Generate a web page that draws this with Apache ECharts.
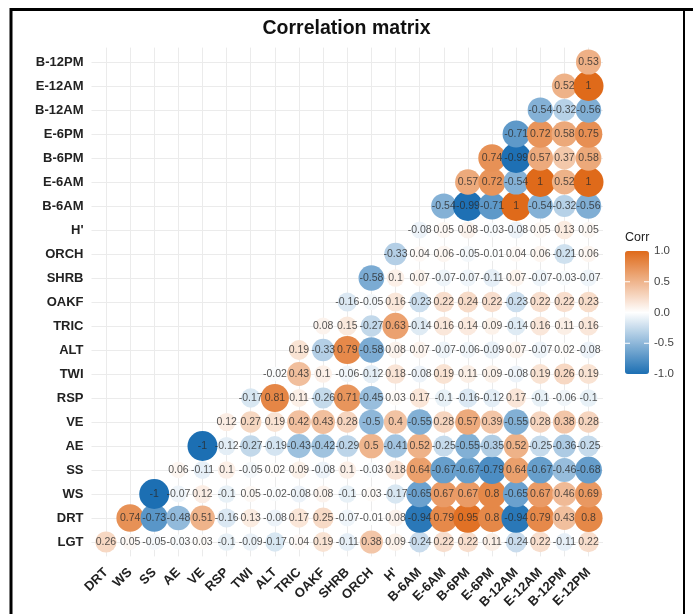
<!DOCTYPE html>
<html>
<head>
<meta charset="utf-8">
<script src="https://cdn.jsdelivr.net/npm/echarts@6/dist/echarts.min.js"></script>
<style>
  html, body { margin: 0; padding: 0; background: #ffffff; }
  #chart { width: 693px; height: 614px; }
</style>
</head>
<body>
<div id="chart"></div>
<script>
// Variables on each axis (rows bottom-to-top, columns left-to-right)
const rowNames = ['LGT', 'DRT', 'WS', 'SS', 'AE', 'VE', 'RSP', 'TWI', 'ALT', 'TRIC', 'OAKF',
  'SHRB', 'ORCH', "H'", 'B-6AM', 'E-6AM', 'B-6PM', 'E-6PM', 'B-12AM', 'E-12AM', 'B-12PM'];
const colNames = ['DRT', 'WS', 'SS', 'AE', 'VE', 'RSP', 'TWI', 'ALT', 'TRIC', 'OAKF', 'SHRB',
  'ORCH', "H'", 'B-6AM', 'E-6AM', 'B-6PM', 'E-6PM', 'B-12AM', 'E-12AM', 'B-12PM', 'E-12PM'];

// Correlations of each row variable with the variables that follow it
const corrLGT  = [0.26, 0.05, -0.05, -0.03, 0.03, -0.1, -0.09, -0.17, 0.04, 0.19, -0.11, 0.38, 0.09, -0.24, 0.22, 0.22, 0.11, -0.24, 0.22, -0.11, 0.22];
const corrDRT  = [0.74, -0.73, -0.48, 0.51, -0.16, 0.13, -0.08, 0.17, 0.25, -0.07, -0.01, 0.08, -0.94, 0.79, 0.95, 0.8, -0.94, 0.79, 0.43, 0.8];
const corrWS   = [-1, -0.07, 0.12, -0.1, 0.05, -0.02, -0.08, 0.08, -0.1, 0.03, -0.17, -0.65, 0.67, 0.67, 0.8, -0.65, 0.67, 0.46, 0.69];
const corrSS   = [0.06, -0.11, 0.1, -0.05, 0.02, 0.09, -0.08, 0.1, -0.03, 0.18, 0.64, -0.67, -0.67, -0.79, 0.64, -0.67, -0.46, -0.68];
const corrAE   = [-1, -0.12, -0.27, -0.19, -0.43, -0.42, -0.29, 0.5, -0.41, 0.52, -0.25, -0.55, -0.35, 0.52, -0.25, -0.36, -0.25];
const corrVE   = [0.12, 0.27, 0.19, 0.42, 0.43, 0.28, -0.5, 0.4, -0.55, 0.28, 0.57, 0.39, -0.55, 0.28, 0.38, 0.28];
const corrRSP  = [-0.17, 0.81, 0.11, -0.26, 0.71, -0.45, 0.03, 0.17, -0.1, -0.16, -0.12, 0.17, -0.1, -0.06, -0.1];
const corrTWI  = [-0.02, 0.43, 0.1, -0.06, -0.12, 0.18, -0.08, 0.19, 0.11, 0.09, -0.08, 0.19, 0.26, 0.19];
const corrALT  = [0.19, -0.33, 0.79, -0.58, 0.08, 0.07, -0.07, -0.06, -0.09, 0.07, -0.07, 0.02, -0.08];
const corrTRIC = [0.08, 0.15, -0.27, 0.63, -0.14, 0.16, 0.14, 0.09, -0.14, 0.16, 0.11, 0.16];
const corrOAKF = [-0.16, -0.05, 0.16, -0.23, 0.22, 0.24, 0.22, -0.23, 0.22, 0.22, 0.23];
const corrSHRB = [-0.58, 0.1, 0.07, -0.07, -0.07, -0.11, 0.07, -0.07, -0.03, -0.07];
const corrORCH = [-0.33, 0.04, 0.06, -0.05, -0.01, 0.04, 0.06, -0.21, 0.06];
const corrH    = [-0.08, 0.05, 0.08, -0.03, -0.08, 0.05, 0.13, 0.05];
const corrB6AM = [-0.54, -0.99, -0.71, 1, -0.54, -0.32, -0.56];
const corrE6AM = [0.57, 0.72, -0.54, 1, 0.52, 1];
const corrB6PM = [0.74, -0.99, 0.57, 0.37, 0.58];
const corrE6PM = [-0.71, 0.72, 0.58, 0.75];
const corrB12AM = [-0.54, -0.32, -0.56];
const corrE12AM = [0.52, 1];
const corrB12PM = [0.53];

const corrRows = [corrLGT, corrDRT, corrWS, corrSS, corrAE, corrVE, corrRSP, corrTWI, corrALT,
  corrTRIC, corrOAKF, corrSHRB, corrORCH, corrH, corrB6AM, corrE6AM, corrB6PM, corrE6PM,
  corrB12AM, corrE12AM, corrB12PM];

// Colour-bar tick labels
const legendTicks = [1.0, 0.5, 0.0, -0.5, -1.0];

// Cells: [column index, row index, r]; row i starts at column i
const cells = [];
corrRows.forEach(function (vals, i) {
  vals.forEach(function (v, k) { cells.push([i + k, i, v]); });
});

const indexTicks = colNames.map(function (_, i) { return i; });

const BLUE = '#1c6fb3';
const ORANGE = '#df6a1a';
const FONT = '"Liberation Sans", Arial, Helvetica, sans-serif';

// Colour bar placement
const barLeft = 625, barTop = 251, barW = 24, barH = 123;
const yOf = function (v) { return barTop + (1 - v) / 2 * barH; };

const graphics = [
  // frame lines
  { type: 'line', shape: { x1: 10, y1: 9.5, x2: 693, y2: 9.5 }, style: { stroke: '#000', lineWidth: 3 }, silent: true },
  { type: 'line', shape: { x1: 11, y1: 8, x2: 11, y2: 614 }, style: { stroke: '#000', lineWidth: 3 }, silent: true },
  { type: 'line', shape: { x1: 684, y1: 8, x2: 684, y2: 614 }, style: { stroke: '#000', lineWidth: 2 }, silent: true },
  { type: 'text', left: barLeft, top: 231, style: { text: 'Corr', font: '12.5px ' + FONT, fill: '#222' }, silent: true }
];
legendTicks.forEach(function (v) {
  graphics.push({ type: 'text', x: barLeft + barW + 5, y: yOf(v),
    style: { text: v.toFixed(1), font: '11.5px ' + FONT, fill: '#444', verticalAlign: 'middle' }, silent: true, z: 10 });
  if (Math.abs(v) < 1) {
    graphics.push({ type: 'line', shape: { x1: barLeft, y1: yOf(v), x2: barLeft + 5, y2: yOf(v) }, style: { stroke: '#fff', lineWidth: 1 }, silent: true, z: 10 });
    graphics.push({ type: 'line', shape: { x1: barLeft + barW - 5, y1: yOf(v), x2: barLeft + barW, y2: yOf(v) }, style: { stroke: '#fff', lineWidth: 1 }, silent: true, z: 10 });
  }
});

const chart = echarts.init(document.getElementById('chart'), null, { renderer: 'canvas' });
chart.setOption({
  animation: false,
  backgroundColor: '#ffffff',
  title: {
    text: 'Correlation matrix',
    left: 'center',
    top: 19,
    padding: 0,
    textStyle: { fontFamily: FONT, fontWeight: 'bold', fontSize: 19.5, color: '#111' }
  },
  grid: { left: 91.5, right: 90, top: 47.6, bottom: 57.6, containLabel: false },
  xAxis: {
    type: 'value',
    min: -0.6,
    max: 20.6,
    axisLine: { show: false },
    axisTick: { show: false, customValues: indexTicks },
    splitLine: { show: true, lineStyle: { color: '#ebebeb', width: 1 } },
    axisLabel: {
      customValues: indexTicks,
      rotate: 45,
      margin: 14,
      fontFamily: FONT,
      fontWeight: 'bold',
      fontSize: 13,
      color: '#222',
      formatter: function (v) { return colNames[Math.round(v)]; }
    }
  },
  yAxis: {
    type: 'value',
    min: -0.6,
    max: 20.6,
    axisLine: { show: false },
    axisTick: { show: false, customValues: indexTicks },
    splitLine: { show: true, lineStyle: { color: '#ebebeb', width: 1 } },
    axisLabel: {
      customValues: indexTicks,
      margin: 8,
      fontFamily: FONT,
      fontWeight: 'bold',
      fontSize: 13,
      color: '#222',
      formatter: function (v) { return rowNames[Math.round(v)]; }
    }
  },
  visualMap: {
    type: 'continuous',
    min: -1,
    max: 1,
    dimension: 2,
    seriesIndex: 0,
    calculable: false,
    hoverLink: false,
    left: barLeft,
    top: barTop,
    itemWidth: barW,
    itemHeight: barH,
    padding: 0,
    text: null,
    inRange: { color: [BLUE, '#ffffff', ORANGE] }
  },
  graphic: graphics,
  series: [
    {
      name: 'circles',
      type: 'scatter',
      data: cells,
      silent: true,
      z: 2,
      symbol: 'circle',
      symbolSize: function (val) { return 12 + 18 * Math.sqrt(Math.abs(val[2])); },
      itemStyle: { opacity: 1 },
      emphasis: { disabled: true }
    },
    {
      name: 'labels',
      type: 'scatter',
      data: cells,
      silent: true,
      z: 5,
      symbolSize: 2,
      itemStyle: { color: 'rgba(0,0,0,0)' },
      label: {
        show: true,
        position: 'inside',
        fontFamily: FONT,
        fontSize: 10.5,
        color: '#2a2a2a',
        formatter: function (p) { return String(p.value[2]); }
      },
      labelLayout: { hideOverlap: false },
      emphasis: { disabled: true }
    }
  ]
});
</script>
</body>
</html>
